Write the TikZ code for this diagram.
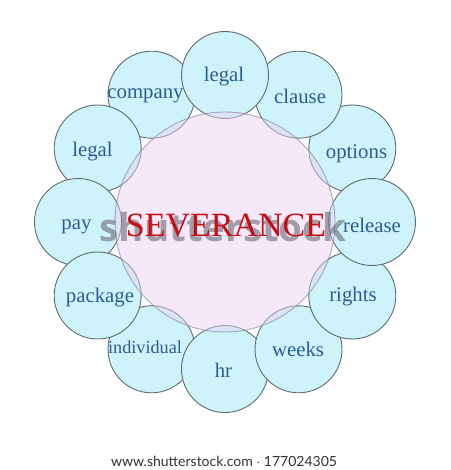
\documentclass[tikz,border=0pt]{standalone}
\usepackage{fontspec}
\setmainfont{Liberation Serif}
\newfontfamily\wmfont{Open Sans}
\newfontfamily\footfont{Lato}
\definecolor{cyanfill}{RGB}{207,243,250}
\definecolor{ringline}{RGB}{95,108,112}
\definecolor{lavfill}{RGB}{235,209,244}
\definecolor{lavline}{RGB}{140,135,170}
\definecolor{textblue}{RGB}{43,92,150}
\definecolor{sevred}{RGB}{200,12,20}
\definecolor{wmgray}{RGB}{95,95,105}
\tikzset{
  petal/.style={circle, draw=ringline, fill=cyanfill, line width=0.9pt, minimum size=87pt, inner sep=0pt},
  word/.style={inner sep=0pt, text=textblue, font=\fontsize{20.8}{24}\selectfont},
  core/.style={circle, minimum size=220pt, inner sep=0pt, fill=lavfill, fill opacity=0.46, draw=lavline, draw opacity=0.7, line width=0.9pt}
}
\begin{document}
\begin{tikzpicture}[x=1pt,y=-1pt]
\useasboundingbox (0,0) rectangle (450,470);
\fill[white] (0,0) rectangle (450,470);
% petals in stacking order
\node[petal] (p120) at (151.5,94.7) {};
\node[petal] (p30)  at (352.3,148.5) {};
\node[petal] (p60)  at (298.5,94.7) {};
\node[petal] (p90)  at (225,75) {};
\node[petal] (p240) at (151.5,349.3) {};
\node[petal] (p270) at (225,369) {};
\node[petal] (p300) at (298.5,349.3) {};
\node[petal] (p330) at (352.3,295.5) {};
\node[petal] (p0)   at (372,222) {};
\node[petal] (p150) at (97.7,148.5) {};
\node[petal] (p180) at (78,222) {};
\node[petal] (p210) at (97.7,295.5) {};
% centre
\node[core] (hub) at (225,222) {};
% labels
\node[word] (t90)  at (224,76.7) {legal};
\node[word] (t60)  at (300,96) {clause};
\node[word] (t30)  at (356.5,153.5) {options};
\node[word] (t0)   at (372,225) {release};
\node[word] (t330) at (353,297) {rights};
\node[word] (t300) at (298,349) {weeks};
\node[word] (t270) at (223.5,370) {hr};
\node[word, font=\fontsize{18.2}{22}\selectfont] (t240) at (145,347) {individual};
\node[word] (t210) at (100,298) {package};
\node[word] (t180) at (76.5,227) {pay};
\node[word] (t150) at (92.5,152) {legal};
\node[word] (t120) at (145.5,96) {company};
% watermark and title
\node[inner sep=0pt, anchor=base, text=wmgray, text opacity=0.55, font=\wmfont\bfseries\fontsize{38.5}{42}\selectfont] (wm) at (223,241) {shutterstock};
\node[inner sep=0pt, anchor=base, text=sevred, font=\fontsize{34}{38}\selectfont] (title) at (226,236.7) {SEVERANCE};
% footer
\node[inner sep=0pt, text=black!80, font=\footfont\fontsize{14}{16}\selectfont] (foot) at (224,461) {www.shutterstock.com $\cdot$ 177024305};
\end{tikzpicture}
\end{document}
